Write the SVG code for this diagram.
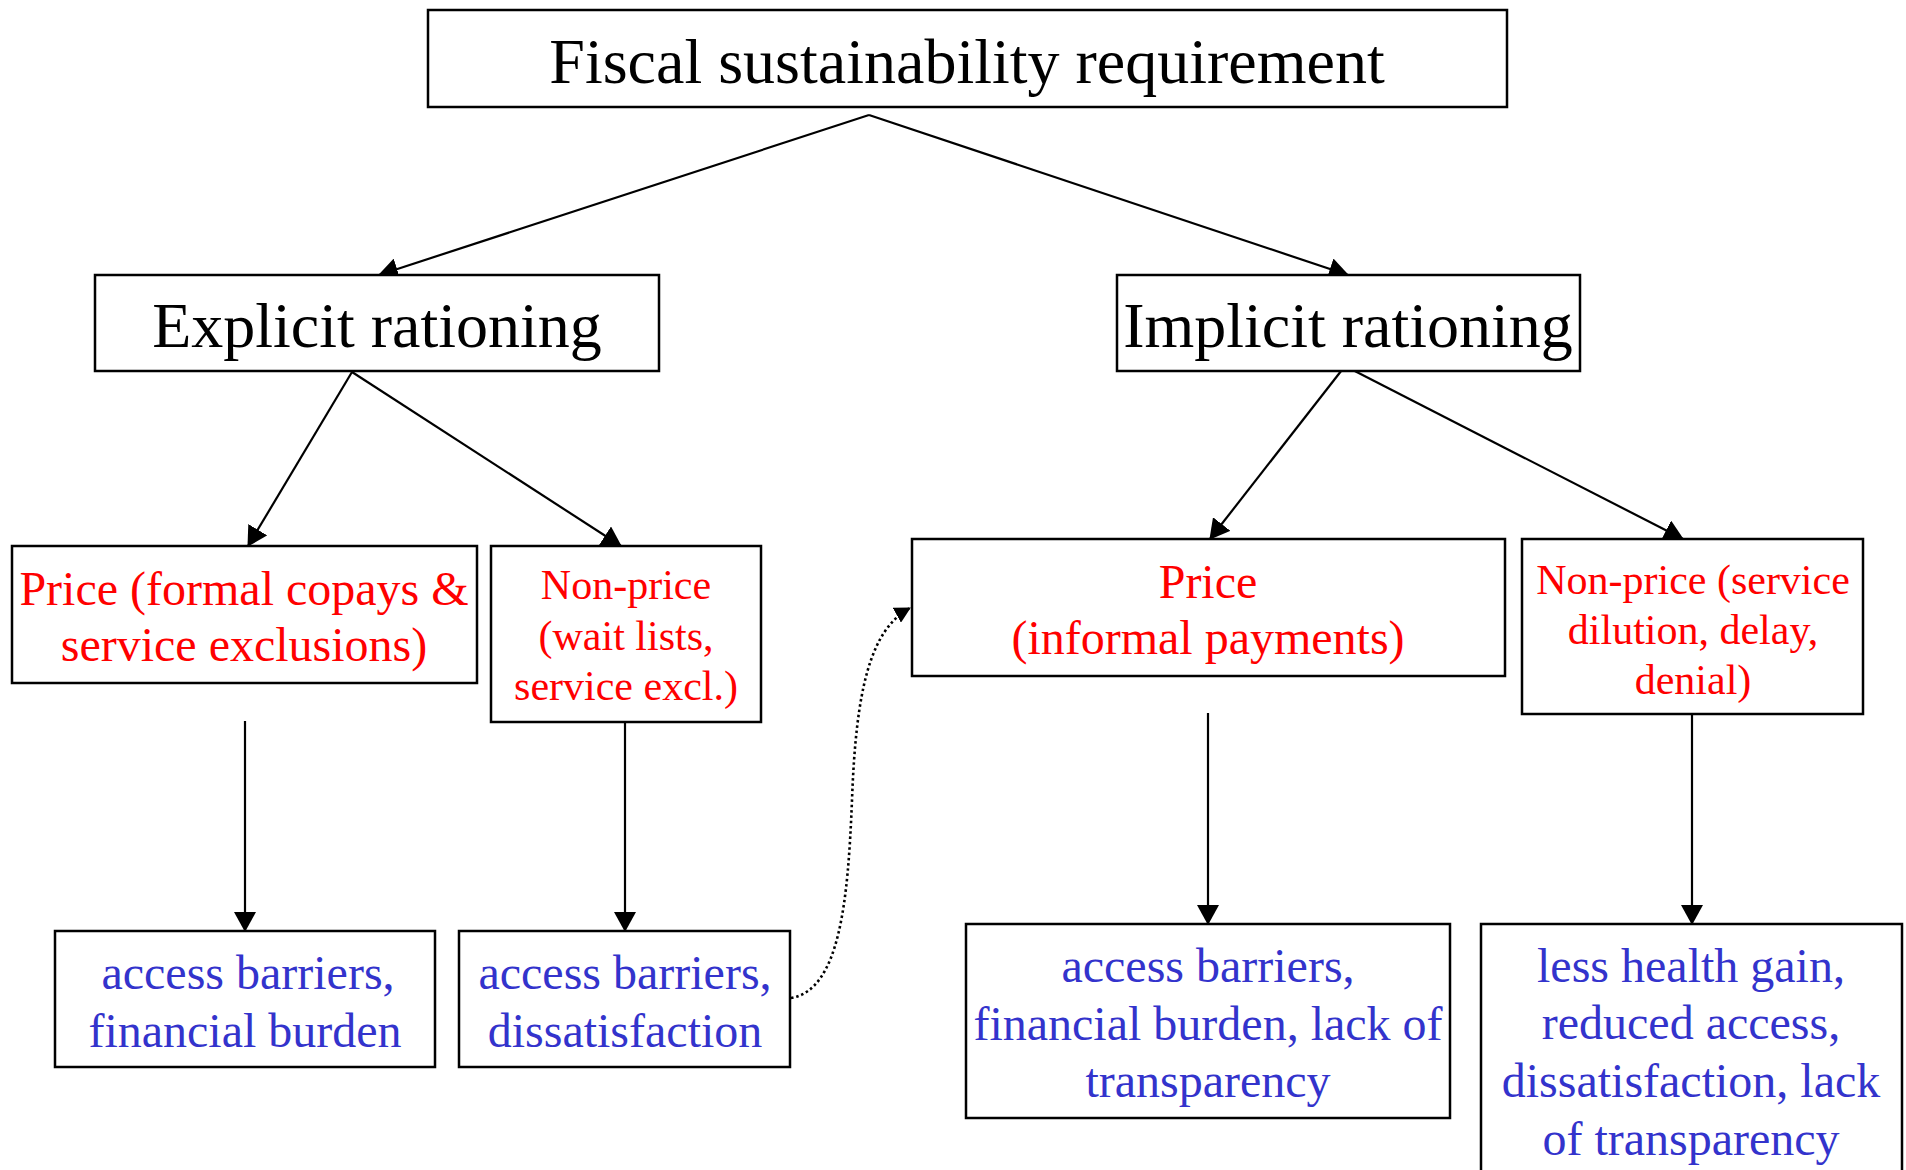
<svg xmlns="http://www.w3.org/2000/svg" width="1906" height="1170" viewBox="0 0 1906 1170">
  <style>
    .box { fill: #ffffff; stroke: #000000; stroke-width: 2.5; }
    .t { font-family: "Liberation Serif", "Times New Roman", serif; text-anchor: middle; }
    .h1 { font-size: 64px; fill: #000000; }
    .red48 { font-size: 48px; fill: #ff0000; }
    .red42 { font-size: 42px; fill: #ff0000; }
    .blue { font-size: 48px; fill: #3333cc; }
    .edge { fill: none; stroke: #000000; stroke-width: 2.2; }
    .dotted { fill: none; stroke: #000000; stroke-width: 2.6; stroke-dasharray: 2.5 2.8; }
  </style>
  <defs>
    <marker id="arrow" viewBox="0 0 20 22" refX="19" refY="11" markerWidth="20" markerHeight="22" markerUnits="userSpaceOnUse" orient="auto">
      <path d="M0,0 L20,11 L0,22 Z" fill="#000000"/>
    </marker>
    <marker id="arrowSmall" viewBox="0 0 16 17" refX="15" refY="8.5" markerWidth="16" markerHeight="17" markerUnits="userSpaceOnUse" orient="auto">
      <path d="M0,0 L16,8.5 L0,17 Z" fill="#000000"/>
    </marker>
  </defs>

  <rect width="1906" height="1170" fill="#ffffff"/>

  <!-- connectors -->
  <g id="connectors">
    <path class="edge" d="M869,115 L379,275" marker-end="url(#arrow)"/>
    <path class="edge" d="M869,115 L1348,275" marker-end="url(#arrow)"/>
    <path class="edge" d="M352,372 L248,546" marker-end="url(#arrow)"/>
    <path class="edge" d="M352,372 L621,546" marker-end="url(#arrow)"/>
    <path class="edge" d="M1345,366 L1210,539" marker-end="url(#arrow)"/>
    <path class="edge" d="M1345,366 L1683,539" marker-end="url(#arrow)"/>
    <path class="edge" d="M245,721 L245,931" marker-end="url(#arrow)"/>
    <path class="edge" d="M625,722 L625,931" marker-end="url(#arrow)"/>
    <path class="edge" d="M1208,713 L1208,924" marker-end="url(#arrow)"/>
    <path class="edge" d="M1692,714 L1692,924" marker-end="url(#arrow)"/>
    <path class="dotted" d="M791,998 C840,990 848,900 852,800 C856,690 870,630 910,608" marker-end="url(#arrowSmall)"/>
  </g>

  <g id="fiscal">
    <rect class="box" x="428" y="10" width="1079" height="97"/>
    <text class="t h1" x="967" y="83">Fiscal sustainability requirement</text>
  </g>

  <g id="explicit">
    <rect class="box" x="95" y="275" width="564" height="96"/>
    <text class="t h1" x="377" y="347">Explicit rationing</text>
  </g>

  <g id="implicit">
    <rect class="box" x="1117" y="275" width="463" height="96"/>
    <text class="t h1" x="1348" y="347">Implicit rationing</text>
  </g>

  <g id="explicit-price">
    <rect class="box" x="12" y="546" width="465" height="137"/>
    <text class="t red48" x="244" y="605">Price (formal copays &amp;</text>
    <text class="t red48" x="244" y="661">service exclusions)</text>
  </g>

  <g id="explicit-nonprice">
    <rect class="box" x="491" y="546" width="270" height="176"/>
    <text class="t red42" x="626" y="599">Non-price</text>
    <text class="t red42" x="626" y="650">(wait lists,</text>
    <text class="t red42" x="626" y="700">service excl.)</text>
  </g>

  <g id="implicit-price">
    <rect class="box" x="912" y="539" width="593" height="137"/>
    <text class="t red48" x="1208" y="598">Price</text>
    <text class="t red48" x="1208" y="654">(informal payments)</text>
  </g>

  <g id="implicit-nonprice">
    <rect class="box" x="1522" y="539" width="341" height="175"/>
    <text class="t red42" x="1693" y="594">Non-price (service</text>
    <text class="t red42" x="1693" y="644">dilution, delay,</text>
    <text class="t red42" x="1693" y="694">denial)</text>
  </g>

  <g id="outcome-explicit-price">
    <rect class="box" x="55" y="931" width="380" height="136"/>
    <text class="t blue" x="248" y="989">access barriers,</text>
    <text class="t blue" x="245" y="1047">financial burden</text>
  </g>

  <g id="outcome-explicit-nonprice">
    <rect class="box" x="459" y="931" width="331" height="136"/>
    <text class="t blue" x="625" y="989">access barriers,</text>
    <text class="t blue" x="625" y="1047">dissatisfaction</text>
  </g>

  <g id="outcome-implicit-price">
    <rect class="box" x="966" y="924" width="484" height="194"/>
    <text class="t blue" x="1208" y="982">access barriers,</text>
    <text class="t blue" x="1208" y="1040">financial burden, lack of</text>
    <text class="t blue" x="1208" y="1097">transparency</text>
  </g>

  <g id="outcome-implicit-nonprice">
    <rect class="box" x="1481" y="924" width="421" height="260"/>
    <text class="t blue" x="1691" y="982">less health gain,</text>
    <text class="t blue" x="1691" y="1039">reduced access,</text>
    <text class="t blue" x="1691" y="1097">dissatisfaction, lack</text>
    <text class="t blue" x="1691" y="1155">of transparency</text>
  </g>
</svg>
